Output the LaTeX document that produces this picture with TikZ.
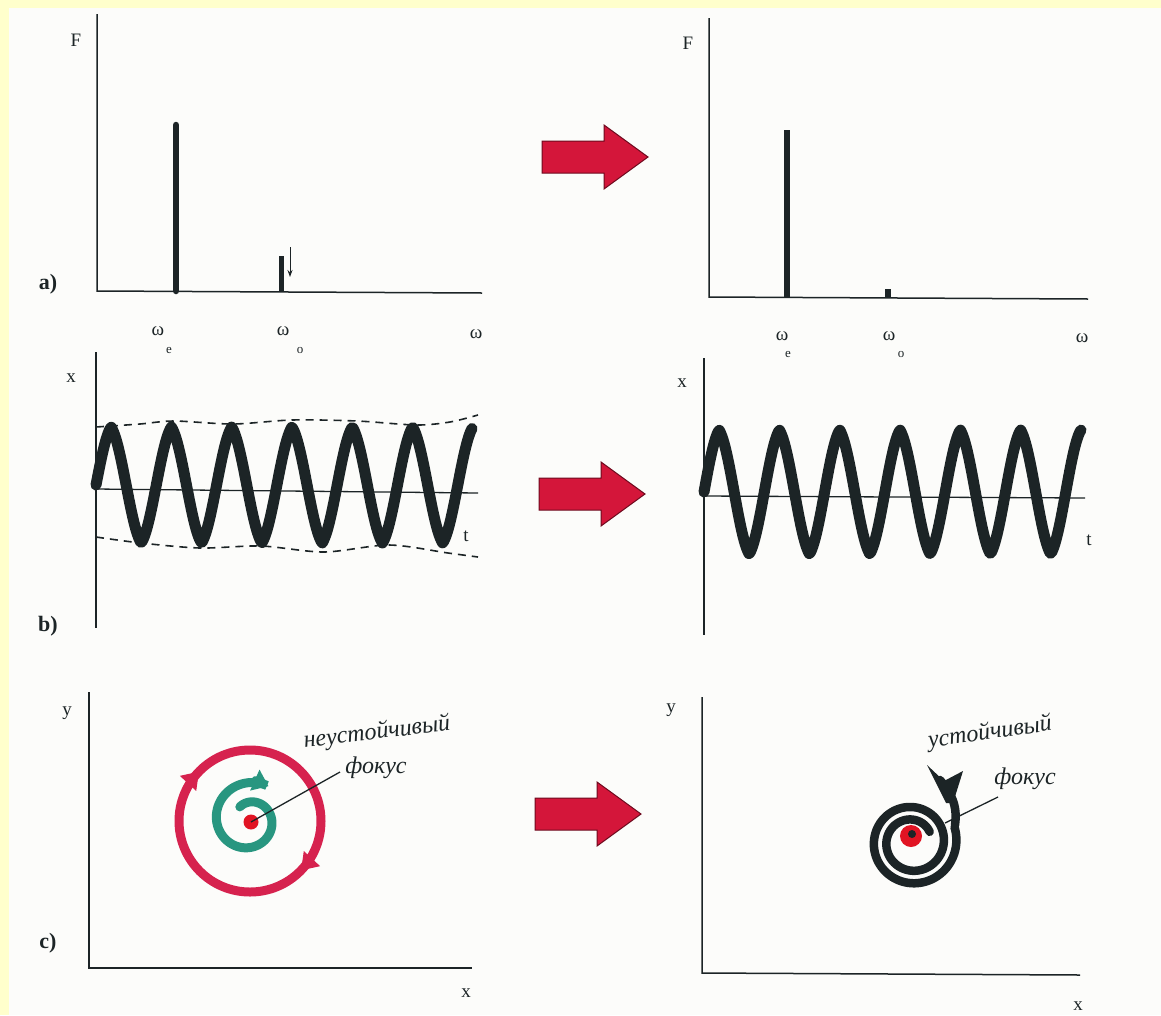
\documentclass[tikz,border=0pt]{standalone}
\usepackage{fontspec}
\setmainfont{Liberation Serif}
\usetikzlibrary{arrows.meta}
\definecolor{bgyellow}{RGB}{255,255,204}
\definecolor{paper}{RGB}{252,252,250}
\definecolor{ink}{RGB}{28,36,38}
\definecolor{arrowred}{RGB}{212,22,58}
\definecolor{arrowedge}{RGB}{110,10,30}
\definecolor{ringred}{RGB}{214,34,78}
\definecolor{spiralgreen}{RGB}{40,150,128}
\definecolor{dotred}{RGB}{225,20,35}
\begin{document}
\begin{tikzpicture}[x=1pt,y=-1pt,
  axis/.style={draw=ink,line width=1.5pt},
  bar/.style={draw=ink,line width=6.5pt},
  wave/.style={draw=ink,line width=11pt,line join=round,line cap=round},
  envelope/.style={draw=ink,line width=1.6pt,dash pattern=on 8pt off 6pt},
  lbl/.style={font=\fontsize{19}{19}\selectfont,text=ink,inner sep=0pt},
  sublbl/.style={font=\fontsize{13}{13}\selectfont,text=ink,inner sep=0pt},
  panel/.style={font=\bfseries\fontsize{22}{22}\selectfont,text=ink,inner sep=0pt},
  hand/.style={font=\itshape\fontsize{24}{24}\selectfont,text=ink,inner sep=0pt},
  redarrow/.pic={\filldraw[fill=arrowred,draw=arrowedge,line width=1pt,line join=miter]
     (0,-16) -- (62,-16) -- (62,-32) -- (106,0) -- (62,32) -- (62,16) -- (0,16) -- cycle;}
]
\fill[bgyellow] (0,0) rectangle (1161,1015);
\fill[paper] (9,8) rectangle (1161,1015);
\useasboundingbox (0,0) rectangle (1161,1015);

% ---------------- panel a (left)
\coordinate (aLt) at (97,14);
\coordinate (aLo) at (97,291);
\coordinate (aLr) at (482,293);
\draw[axis] (aLt) -- (aLo) -- (aLr);
\coordinate (aLb1t) at (176,125); \coordinate (aLb1b) at (176,291);
\draw[bar,line cap=round] (aLb1t) -- (aLb1b);
\coordinate (aLb2t) at (281,256); \coordinate (aLb2b) at (281,291);
\draw[bar,line width=5pt] (aLb2t) -- (aLb2b);
\coordinate (aLat) at (290,247); \coordinate (aLab) at (290,277);
\draw[ink,line width=1pt,-{Stealth[length=7pt,width=5pt]}] (aLat) -- (aLab);
\node[lbl] (aLF) at (76,40) {F};
\node[panel] (aLp) at (48,284) {a)};
\node[lbl] (aLw1) at (158,331) {ω};
\node[sublbl] (aLs1) at (169,350) {e};
\node[lbl] (aLw2) at (283,331) {ω};
\node[sublbl] (aLs2) at (300,350) {o};
\node[lbl] (aLw) at (476,334) {ω};

% ---------------- panel a (right)
\coordinate (aRt) at (709,18);
\coordinate (aRo) at (709,297);
\coordinate (aRr) at (1088,299);
\draw[axis] (aRt) -- (aRo) -- (aRr);
\coordinate (aRb1t) at (787,130); \coordinate (aRb1b) at (787,297);
\draw[bar] (aRb1t) -- (aRb1b);
\coordinate (aRb2t) at (888,289); \coordinate (aRb2b) at (888,297);
\draw[bar] (aRb2t) -- (aRb2b);
\node[lbl] (aRF) at (688,43) {F};
\node[lbl] (aRw1) at (782,336) {ω};
\node[sublbl] (aRs1) at (788,354) {e};
\node[lbl] (aRw2) at (889,336) {ω};
\node[sublbl] (aRs2) at (901,354) {o};
\node[lbl] (aRw) at (1082,338) {ω};

% ---------------- arrows between panels
\pic at (542,157) {redarrow};
\pic at (539,494) {redarrow};
\pic at (535,814) {redarrow};

% ---------------- panel b (left)
\coordinate (bLt) at (96,352);
\coordinate (bLb) at (96,628);
\coordinate (bLz) at (96,489);
\coordinate (bLr) at (478,493);
\draw[axis] (bLt) -- (bLb);
\draw[axis,line width=1.3pt] (bLz) -- (bLr);
\draw[envelope] plot[smooth] coordinates {(96,427) (140,424) (174,421) (233,424) (292,420) (357,421) (416,425) (450,422) (478,415)};
\draw[envelope] plot[smooth] coordinates {(96,537) (141,543) (200,548) (261,546) (324,552) (389,545) (448,553) (478,557)};
\draw[wave] plot[domain=0:376,samples=320,variable=\t]
  ({96+\t},{485-58*(0.6*sin(\t/60.3*360)+0.4*asin(sin(\t/60.3*360))/90)});
\node[lbl] (bLx) at (71,378) {x};
\node[lbl] (bLtl) at (466,536) {t};
\node[panel] (bLp) at (48,626) {b)};

% ---------------- panel b (right)
\coordinate (bRt) at (704,358);
\coordinate (bRb) at (704,635);
\coordinate (bRz) at (704,496);
\coordinate (bRr) at (1085,498);
\draw[axis] (bRt) -- (bRb);
\draw[axis,line width=1.3pt] (bRz) -- (bRr);
\draw[wave] plot[domain=0:377,samples=320,variable=\t]
  ({704+\t},{492-62*(0.6*sin(\t/60.3*360)+0.4*asin(sin(\t/60.3*360))/90)});
\node[lbl] (bRx) at (682,383) {x};
\node[lbl] (bRtl) at (1089,540) {t};

% ---------------- panel c (left)
\coordinate (cLt) at (89,692);
\coordinate (cLo) at (89,968);
\coordinate (cLr) at (472,968);
\draw[axis] (cLt) -- (cLo) -- (cLr);
\node[lbl] (cLy) at (67,713) {y};
\node[lbl] (cLx) at (466,993) {x};
\node[panel] (cLp) at (48,943) {c)};
% red limit circle
\draw[ringred,line width=9pt] (250,821) circle[radius=71];
\draw[ringred,line width=1pt,-{Triangle[length=16pt,width=22pt]}]
  plot[domain=-160:-136,samples=12,variable=\t] ({250+71*cos(\t)},{821+71*sin(\t)});
\draw[ringred,line width=1pt,-{Triangle[length=16pt,width=22pt]}]
  plot[domain=20:44,samples=12,variable=\t] ({250+71*cos(\t)},{821+71*sin(\t)});
% green unstable spiral
\draw[spiralgreen,line width=9pt,line cap=round,-{Triangle[length=15pt,width=22pt]}]
  plot[domain=-125:300,samples=170,variable=\t] ({249+(16+23*(\t+125)/425)*cos(\t)},{820+(16+23*(\t+125)/425)*sin(\t)});
\node[circle,fill=dotred,minimum size=15pt,inner sep=0pt] (cLdot) at (251,822) {};
\node[hand,rotate=7] (cLw1) at (377,733) {неустойчивый};
\node[hand] (cLw2) at (376,768) {фокус};
\coordinate (cLend) at (340,772);
\draw[ink,line width=1.3pt] (cLdot.center) -- (cLend);

% ---------------- panel c (right)
\coordinate (cRt) at (702,697);
\coordinate (cRo) at (702,973);
\coordinate (cRr) at (1080,975);
\draw[axis] (cRt) -- (cRo) -- (cRr);
\node[lbl] (cRy) at (671,710) {y};
\node[lbl] (cRx) at (1078,1006) {x};
% black stable spiral
\node[circle,fill=dotred,minimum size=22pt,inner sep=0pt] (cRdot) at (911,836) {};
\draw[ink,line width=8.5pt,line cap=round]
  (940,780) .. controls (950,792) and (958,804) .. (955,825)
  plot[domain=-19:690,samples=260,variable=\t] ({912+(45-12.5*(\t+19)/360)*cos(\t)},{842+(45-12.5*(\t+19)/360)*sin(\t)});
\fill[ink] (927,765) -- (944,781) -- (963,771) -- (953,803) -- (946,803) -- cycle;
\node[circle,fill=ink,minimum size=8pt,inner sep=0pt] (cRc) at (912,834) {};
\node[hand,rotate=8] (cRw1) at (990,733) {устойчивый};
\node[hand] (cRw2) at (1025,779) {фокус};
\coordinate (cRs) at (945,823);
\coordinate (cRend) at (998,797);
\draw[ink,line width=1.3pt] (cRs) -- (cRend);
\end{tikzpicture}
\end{document}
